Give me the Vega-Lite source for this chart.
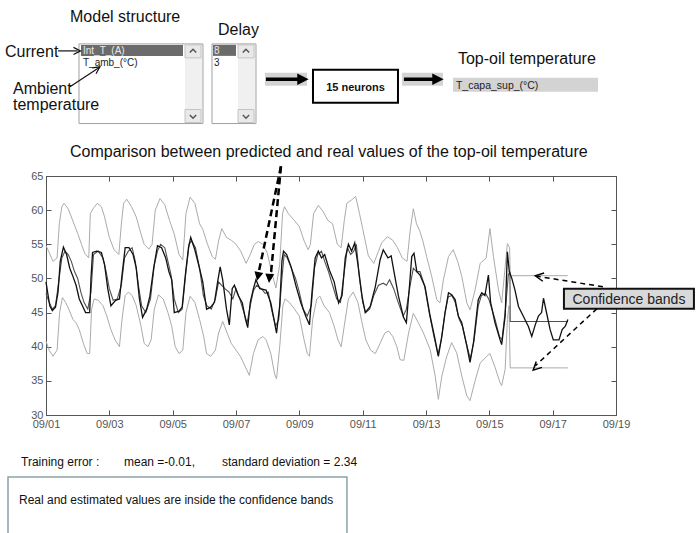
{
"$schema":"https://vega.github.io/schema/vega-lite/v6.json",
"width":570,"height":239,"autosize":"none",
"padding":{"left":46,"top":176,"right":80,"bottom":118},
"background":"white",
"config":{"view":{"stroke":"#555","strokeWidth":1},"text":{"font":"Liberation Sans"}},
"datasets":{
"real":[{"d":1.0,"v":49.5},{"d":1.05,"v":48.0},{"d":1.12,"v":46.0},{"d":1.2,"v":45.3},{"d":1.3,"v":45.8},{"d":1.38,"v":48.0},{"d":1.45,"v":52.5},{"d":1.55,"v":54.6},{"d":1.65,"v":53.5},{"d":1.75,"v":51.5},{"d":1.85,"v":50.3},{"d":1.95,"v":49.0},{"d":2.05,"v":47.0},{"d":2.15,"v":46.0},{"d":2.25,"v":45.0},{"d":2.38,"v":45.0},{"d":2.42,"v":50.0},{"d":2.47,"v":53.8},{"d":2.6,"v":54.0},{"d":2.75,"v":53.8},{"d":2.85,"v":52.0},{"d":2.95,"v":48.5},{"d":3.05,"v":46.0},{"d":3.2,"v":46.8},{"d":3.32,"v":47.0},{"d":3.4,"v":50.5},{"d":3.5,"v":54.5},{"d":3.62,"v":54.5},{"d":3.75,"v":53.5},{"d":3.85,"v":51.5},{"d":3.95,"v":47.0},{"d":4.05,"v":44.3},{"d":4.18,"v":45.5},{"d":4.28,"v":47.4},{"d":4.4,"v":51.5},{"d":4.52,"v":54.8},{"d":4.65,"v":54.5},{"d":4.78,"v":53.0},{"d":4.88,"v":51.0},{"d":4.97,"v":49.8},{"d":5.05,"v":45.0},{"d":5.2,"v":45.2},{"d":5.3,"v":45.8},{"d":5.4,"v":50.5},{"d":5.5,"v":54.5},{"d":5.57,"v":56.0},{"d":5.7,"v":54.2},{"d":5.82,"v":52.0},{"d":5.95,"v":49.5},{"d":6.07,"v":45.5},{"d":6.2,"v":45.8},{"d":6.32,"v":46.5},{"d":6.42,"v":49.5},{"d":6.5,"v":51.7},{"d":6.58,"v":49.8},{"d":6.7,"v":45.5},{"d":6.79,"v":43.2},{"d":6.88,"v":48.5},{"d":6.95,"v":49.0},{"d":7.07,"v":47.5},{"d":7.2,"v":46.4},{"d":7.3,"v":44.0},{"d":7.37,"v":42.8},{"d":7.45,"v":46.5},{"d":7.55,"v":48.5},{"d":7.63,"v":49.8},{"d":7.75,"v":48.5},{"d":7.95,"v":48.3},{"d":8.1,"v":46.4},{"d":8.2,"v":44.0},{"d":8.28,"v":42.0},{"d":8.38,"v":46.0},{"d":8.45,"v":52.5},{"d":8.5,"v":54.0},{"d":8.6,"v":53.5},{"d":8.74,"v":51.7},{"d":8.9,"v":48.8},{"d":9.05,"v":46.4},{"d":9.2,"v":44.5},{"d":9.32,"v":43.2},{"d":9.4,"v":48.0},{"d":9.5,"v":53.0},{"d":9.6,"v":54.0},{"d":9.7,"v":53.0},{"d":9.8,"v":53.5},{"d":9.95,"v":51.2},{"d":10.1,"v":49.5},{"d":10.24,"v":46.4},{"d":10.35,"v":47.5},{"d":10.45,"v":53.0},{"d":10.55,"v":55.0},{"d":10.65,"v":54.0},{"d":10.75,"v":55.2},{"d":10.85,"v":52.0},{"d":10.98,"v":47.4},{"d":11.08,"v":45.0},{"d":11.24,"v":45.9},{"d":11.4,"v":48.8},{"d":11.55,"v":52.7},{"d":11.65,"v":54.2},{"d":11.8,"v":53.0},{"d":11.9,"v":53.3},{"d":11.98,"v":51.2},{"d":12.13,"v":47.4},{"d":12.29,"v":44.3},{"d":12.38,"v":43.5},{"d":12.48,"v":49.0},{"d":12.55,"v":53.2},{"d":12.62,"v":53.7},{"d":12.71,"v":51.0},{"d":12.81,"v":50.5},{"d":12.97,"v":48.8},{"d":13.13,"v":44.5},{"d":13.29,"v":41.0},{"d":13.39,"v":38.6},{"d":13.5,"v":41.5},{"d":13.6,"v":44.9},{"d":13.71,"v":47.9},{"d":13.81,"v":47.6},{"d":13.92,"v":46.9},{"d":14.02,"v":44.5},{"d":14.13,"v":43.5},{"d":14.29,"v":40.1},{"d":14.39,"v":37.7},{"d":14.5,"v":40.6},{"d":14.65,"v":46.9},{"d":14.76,"v":47.9},{"d":14.86,"v":47.5},{"d":14.97,"v":50.5},{"d":15.04,"v":46.5},{"d":15.18,"v":43.5},{"d":15.34,"v":41.0},{"d":15.39,"v":40.3},{"d":15.5,"v":44.5},{"d":15.57,"v":53.9},{"d":15.63,"v":51.0},{"d":15.71,"v":50.0},{"d":15.81,"v":48.3},{"d":15.92,"v":45.9},{"d":16.07,"v":44.5},{"d":16.23,"v":43.0},{"d":16.34,"v":41.5},{"d":16.45,"v":43.2},{"d":16.55,"v":44.5},{"d":16.65,"v":45.0},{"d":16.71,"v":47.1},{"d":16.81,"v":44.9},{"d":16.92,"v":42.5},{"d":17.02,"v":41.0},{"d":17.2,"v":41.0},{"d":17.3,"v":42.5},{"d":17.4,"v":43.0},{"d":17.48,"v":44.0}],
"pred":[{"d":1.0,"v":47.8},{"d":1.1,"v":46.5},{"d":1.2,"v":45.5},{"d":1.3,"v":46.0},{"d":1.4,"v":49.5},{"d":1.5,"v":53.0},{"d":1.6,"v":54.0},{"d":1.7,"v":53.5},{"d":1.8,"v":52.5},{"d":1.9,"v":51.0},{"d":2.0,"v":50.0},{"d":2.1,"v":48.0},{"d":2.2,"v":46.5},{"d":2.32,"v":45.5},{"d":2.42,"v":48.0},{"d":2.5,"v":53.5},{"d":2.65,"v":54.0},{"d":2.8,"v":53.0},{"d":2.9,"v":51.0},{"d":3.0,"v":48.5},{"d":3.12,"v":46.8},{"d":3.25,"v":47.0},{"d":3.38,"v":49.0},{"d":3.48,"v":53.0},{"d":3.6,"v":54.0},{"d":3.72,"v":54.5},{"d":3.82,"v":52.5},{"d":3.92,"v":49.0},{"d":4.02,"v":46.0},{"d":4.15,"v":45.0},{"d":4.3,"v":47.0},{"d":4.42,"v":52.0},{"d":4.52,"v":54.0},{"d":4.62,"v":55.0},{"d":4.75,"v":54.5},{"d":4.85,"v":52.5},{"d":4.95,"v":50.5},{"d":5.05,"v":47.0},{"d":5.18,"v":45.0},{"d":5.3,"v":45.5},{"d":5.42,"v":51.0},{"d":5.52,"v":55.0},{"d":5.6,"v":55.5},{"d":5.72,"v":54.5},{"d":5.85,"v":51.5},{"d":5.97,"v":47.5},{"d":6.08,"v":46.0},{"d":6.22,"v":45.5},{"d":6.35,"v":47.0},{"d":6.45,"v":49.5},{"d":6.55,"v":49.0},{"d":6.65,"v":48.5},{"d":6.78,"v":48.0},{"d":6.9,"v":47.0},{"d":7.0,"v":48.5},{"d":7.12,"v":47.0},{"d":7.25,"v":45.0},{"d":7.35,"v":43.5},{"d":7.45,"v":46.0},{"d":7.55,"v":48.2},{"d":7.65,"v":49.0},{"d":7.8,"v":48.5},{"d":7.92,"v":47.8},{"d":8.02,"v":48.0},{"d":8.12,"v":45.5},{"d":8.25,"v":43.0},{"d":8.35,"v":44.0},{"d":8.45,"v":50.0},{"d":8.52,"v":53.5},{"d":8.62,"v":53.0},{"d":8.75,"v":51.5},{"d":8.88,"v":50.0},{"d":9.0,"v":48.0},{"d":9.12,"v":45.5},{"d":9.25,"v":44.5},{"d":9.38,"v":46.0},{"d":9.48,"v":51.5},{"d":9.58,"v":53.5},{"d":9.7,"v":54.0},{"d":9.8,"v":52.5},{"d":9.92,"v":51.0},{"d":10.05,"v":49.0},{"d":10.18,"v":47.0},{"d":10.3,"v":46.5},{"d":10.42,"v":51.0},{"d":10.52,"v":54.5},{"d":10.62,"v":53.5},{"d":10.72,"v":54.0},{"d":10.8,"v":55.0},{"d":10.9,"v":50.0},{"d":11.0,"v":46.5},{"d":11.1,"v":45.0},{"d":11.22,"v":45.5},{"d":11.35,"v":47.5},{"d":11.5,"v":49.0},{"d":11.65,"v":49.3},{"d":11.75,"v":49.0},{"d":11.85,"v":49.8},{"d":11.98,"v":48.5},{"d":12.12,"v":46.5},{"d":12.28,"v":44.5},{"d":12.38,"v":45.5},{"d":12.5,"v":49.0},{"d":12.6,"v":51.5},{"d":12.7,"v":51.0},{"d":12.81,"v":51.0},{"d":12.95,"v":49.0},{"d":13.1,"v":45.0},{"d":13.25,"v":41.5},{"d":13.38,"v":38.8},{"d":13.48,"v":41.0},{"d":13.6,"v":45.0},{"d":13.7,"v":47.3},{"d":13.82,"v":47.5},{"d":13.92,"v":46.5},{"d":14.05,"v":44.0},{"d":14.15,"v":43.0},{"d":14.3,"v":40.0},{"d":14.4,"v":38.2},{"d":14.52,"v":41.0},{"d":14.65,"v":46.0},{"d":14.75,"v":47.5},{"d":14.88,"v":47.8},{"d":14.98,"v":47.0},{"d":15.05,"v":46.0},{"d":15.18,"v":44.0},{"d":15.32,"v":41.5},{"d":15.4,"v":41.0},{"d":15.52,"v":46.0},{"d":15.6,"v":50.5},{"d":15.65,"v":51.0},{"d":15.66,"v":43.7},{"d":17.48,"v":43.7}],
"upper":[{"d":1.0,"v":54.8},{"d":1.1,"v":53.8},{"d":1.22,"v":52.5},{"d":1.35,"v":53.0},{"d":1.42,"v":58.0},{"d":1.5,"v":60.5},{"d":1.57,"v":61.0},{"d":1.7,"v":60.2},{"d":1.8,"v":59.0},{"d":1.9,"v":57.8},{"d":2.0,"v":56.6},{"d":2.12,"v":55.0},{"d":2.22,"v":53.7},{"d":2.35,"v":53.0},{"d":2.4,"v":59.5},{"d":2.5,"v":60.3},{"d":2.62,"v":61.0},{"d":2.75,"v":60.5},{"d":2.85,"v":59.0},{"d":3.0,"v":56.0},{"d":3.15,"v":54.2},{"d":3.3,"v":53.5},{"d":3.38,"v":58.0},{"d":3.45,"v":61.0},{"d":3.55,"v":61.6},{"d":3.7,"v":60.5},{"d":3.85,"v":59.0},{"d":4.0,"v":56.5},{"d":4.1,"v":55.0},{"d":4.25,"v":54.3},{"d":4.35,"v":55.0},{"d":4.45,"v":60.0},{"d":4.6,"v":61.7},{"d":4.75,"v":60.8},{"d":4.9,"v":58.5},{"d":5.05,"v":56.5},{"d":5.2,"v":53.5},{"d":5.32,"v":52.7},{"d":5.42,"v":59.5},{"d":5.55,"v":61.9},{"d":5.7,"v":61.0},{"d":5.85,"v":58.0},{"d":5.95,"v":57.2},{"d":6.1,"v":55.0},{"d":6.25,"v":53.2},{"d":6.35,"v":52.8},{"d":6.45,"v":55.5},{"d":6.55,"v":57.3},{"d":6.7,"v":56.0},{"d":6.85,"v":55.6},{"d":7.0,"v":55.0},{"d":7.15,"v":54.0},{"d":7.32,"v":52.2},{"d":7.45,"v":53.5},{"d":7.58,"v":55.0},{"d":7.7,"v":55.4},{"d":7.85,"v":55.0},{"d":7.99,"v":53.7},{"d":8.12,"v":51.0},{"d":8.26,"v":48.6},{"d":8.38,"v":52.0},{"d":8.47,"v":59.5},{"d":8.53,"v":60.5},{"d":8.65,"v":59.5},{"d":8.84,"v":58.5},{"d":9.0,"v":57.6},{"d":9.15,"v":55.5},{"d":9.28,"v":54.2},{"d":9.35,"v":55.0},{"d":9.45,"v":59.5},{"d":9.6,"v":60.7},{"d":9.75,"v":59.8},{"d":9.9,"v":58.5},{"d":10.05,"v":58.0},{"d":10.2,"v":55.0},{"d":10.32,"v":54.5},{"d":10.42,"v":58.5},{"d":10.5,"v":61.0},{"d":10.65,"v":61.5},{"d":10.78,"v":62.0},{"d":10.9,"v":59.5},{"d":11.0,"v":57.3},{"d":11.18,"v":53.3},{"d":11.35,"v":52.2},{"d":11.5,"v":54.0},{"d":11.6,"v":55.2},{"d":11.78,"v":56.1},{"d":11.95,"v":55.6},{"d":12.1,"v":54.5},{"d":12.25,"v":53.0},{"d":12.4,"v":52.5},{"d":12.5,"v":57.0},{"d":12.6,"v":60.2},{"d":12.7,"v":58.0},{"d":12.8,"v":57.0},{"d":12.9,"v":55.5},{"d":13.02,"v":53.2},{"d":13.18,"v":50.3},{"d":13.34,"v":46.9},{"d":13.44,"v":46.4},{"d":13.55,"v":49.8},{"d":13.71,"v":53.2},{"d":13.86,"v":54.2},{"d":14.0,"v":52.5},{"d":14.13,"v":50.3},{"d":14.29,"v":46.4},{"d":14.39,"v":45.4},{"d":14.55,"v":48.3},{"d":14.71,"v":52.2},{"d":14.9,"v":53.0},{"d":15.02,"v":57.3},{"d":15.13,"v":53.2},{"d":15.29,"v":48.3},{"d":15.39,"v":46.4},{"d":15.5,"v":51.7},{"d":15.57,"v":55.1},{"d":15.64,"v":54.5},{"d":15.66,"v":50.4},{"d":17.48,"v":50.4}],
"lower":[{"d":1.0,"v":40.8},{"d":1.1,"v":39.5},{"d":1.22,"v":38.6},{"d":1.35,"v":39.5},{"d":1.43,"v":45.0},{"d":1.52,"v":47.2},{"d":1.62,"v":46.5},{"d":1.72,"v":45.5},{"d":1.85,"v":44.0},{"d":1.95,"v":43.5},{"d":2.05,"v":42.5},{"d":2.18,"v":40.5},{"d":2.3,"v":39.0},{"d":2.38,"v":39.0},{"d":2.44,"v":45.5},{"d":2.52,"v":47.0},{"d":2.65,"v":46.8},{"d":2.8,"v":46.0},{"d":2.92,"v":44.5},{"d":3.05,"v":42.5},{"d":3.18,"v":41.0},{"d":3.32,"v":40.0},{"d":3.4,"v":44.0},{"d":3.5,"v":47.5},{"d":3.6,"v":48.0},{"d":3.72,"v":47.5},{"d":3.85,"v":46.0},{"d":4.0,"v":43.0},{"d":4.1,"v":40.5},{"d":4.22,"v":40.0},{"d":4.32,"v":41.0},{"d":4.42,"v":45.5},{"d":4.55,"v":47.6},{"d":4.7,"v":47.0},{"d":4.85,"v":45.0},{"d":4.97,"v":43.0},{"d":5.08,"v":40.0},{"d":5.2,"v":39.0},{"d":5.32,"v":39.5},{"d":5.42,"v":45.0},{"d":5.55,"v":47.4},{"d":5.7,"v":46.5},{"d":5.85,"v":44.0},{"d":5.98,"v":41.5},{"d":6.07,"v":39.0},{"d":6.2,"v":38.6},{"d":6.35,"v":39.5},{"d":6.45,"v":42.0},{"d":6.58,"v":43.7},{"d":6.72,"v":42.0},{"d":6.85,"v":40.5},{"d":7.0,"v":39.5},{"d":7.15,"v":38.5},{"d":7.3,"v":37.0},{"d":7.42,"v":35.8},{"d":7.55,"v":39.0},{"d":7.7,"v":41.0},{"d":7.85,"v":41.5},{"d":7.95,"v":41.0},{"d":8.1,"v":39.0},{"d":8.22,"v":36.0},{"d":8.28,"v":35.3},{"d":8.38,"v":40.0},{"d":8.48,"v":46.0},{"d":8.55,"v":47.0},{"d":8.7,"v":46.4},{"d":8.85,"v":45.5},{"d":9.0,"v":44.5},{"d":9.15,"v":41.0},{"d":9.25,"v":39.0},{"d":9.32,"v":38.6},{"d":9.42,"v":44.0},{"d":9.55,"v":47.0},{"d":9.65,"v":47.4},{"d":9.78,"v":46.0},{"d":9.95,"v":45.0},{"d":10.1,"v":43.0},{"d":10.22,"v":41.0},{"d":10.32,"v":40.0},{"d":10.45,"v":44.0},{"d":10.55,"v":47.0},{"d":10.7,"v":48.0},{"d":10.85,"v":46.5},{"d":10.98,"v":43.5},{"d":11.1,"v":41.0},{"d":11.25,"v":39.5},{"d":11.4,"v":39.0},{"d":11.55,"v":40.5},{"d":11.7,"v":42.0},{"d":11.82,"v":42.3},{"d":11.95,"v":41.5},{"d":12.08,"v":40.0},{"d":12.18,"v":38.1},{"d":12.3,"v":38.0},{"d":12.45,"v":42.0},{"d":12.6,"v":44.9},{"d":12.76,"v":43.5},{"d":12.92,"v":42.0},{"d":13.13,"v":39.6},{"d":13.29,"v":35.7},{"d":13.39,"v":32.3},{"d":13.5,"v":35.7},{"d":13.65,"v":38.5},{"d":13.81,"v":40.6},{"d":13.97,"v":39.1},{"d":14.13,"v":35.7},{"d":14.29,"v":32.8},{"d":14.39,"v":32.1},{"d":14.55,"v":35.0},{"d":14.71,"v":37.6},{"d":14.92,"v":38.6},{"d":15.02,"v":39.0},{"d":15.18,"v":37.0},{"d":15.34,"v":34.7},{"d":15.39,"v":34.3},{"d":15.5,"v":36.7},{"d":15.57,"v":44.0},{"d":15.62,"v":46.0},{"d":15.66,"v":36.9},{"d":17.48,"v":36.9}]
},
"resolve":{"axis":{"x":"independent","y":"independent"}},
"layer":[
{"data":{"name":"upper"},"mark":{"type":"line","color":"#ababab","strokeWidth":1},
 "encoding":{
  "x":{"field":"d","type":"quantitative","scale":{"domain":[1,19],"nice":false,"zero":false},
   "axis":{"title":null,"grid":false,"values":[1,3,5,7,9,11,13,15,17,19],"labelExpr":"'09/' + (datum.value < 10 ? '0' : '') + datum.value","tickSize":-5,"labelPadding":8,"labelFlush":false,"labelOverlap":false,"domainColor":"#555","tickColor":"#555","labelColor":"#555","labelFont":"Liberation Sans","labelFontSize":11}},
  "y":{"field":"v","type":"quantitative","scale":{"domain":[30,65],"nice":false,"zero":false},
   "axis":{"title":null,"grid":false,"values":[30,35,40,45,50,55,60,65],"tickSize":-5,"labelPadding":8,"labelFlush":false,"labelOverlap":false,"domainColor":"#555","tickColor":"#555","labelColor":"#555","labelFont":"Liberation Sans","labelFontSize":11}}}},
{"data":{"name":"lower"},"mark":{"type":"line","color":"#ababab","strokeWidth":1},
 "encoding":{
  "x":{"field":"d","type":"quantitative","scale":{"domain":[1,19],"nice":false,"zero":false},
   "axis":{"orient":"top","title":null,"grid":false,"labels":false,"values":[1,3,5,7,9,11,13,15,17,19],"tickSize":-5,"domainColor":"#555","tickColor":"#555"}},
  "y":{"field":"v","type":"quantitative","scale":{"domain":[30,65],"nice":false,"zero":false},
   "axis":{"orient":"right","title":null,"grid":false,"labels":false,"values":[30,35,40,45,50,55,60,65],"tickSize":-5,"domainColor":"#555","tickColor":"#555"}}}},
{"data":{"name":"pred"},"mark":{"type":"line","color":"#505050","strokeWidth":1.1},
 "encoding":{"x":{"field":"d","type":"quantitative","axis":null},"y":{"field":"v","type":"quantitative","axis":null}}},
{"data":{"name":"real"},"mark":{"type":"line","color":"#111111","strokeWidth":1.3},
 "encoding":{"x":{"field":"d","type":"quantitative","axis":null},"y":{"field":"v","type":"quantitative","axis":null}}},
{"data":{"values":[{"d":2.042,"d2":5.957,"v":84.34,"v2":72.68},{"d":6.242,"d2":7.631,"v":84.34,"v2":72.68}]},
 "mark":{"type":"rect","fill":"white","stroke":"#a0a0a0","strokeWidth":1},
 "encoding":{"x":{"field":"d","type":"quantitative","axis":null},"x2":{"field":"d2"},"y":{"field":"v","type":"quantitative","axis":null},"y2":{"field":"v2"}}},
{"data":{"values":[{"d":5.389,"d2":5.926,"v":84.2,"v2":72.83},{"d":7.063,"d2":7.6,"v":84.2,"v2":72.83}]},
 "mark":{"type":"rect","fill":"#f0f0f0"},
 "encoding":{"x":{"field":"d","type":"quantitative","axis":null},"x2":{"field":"d2"},"y":{"field":"v","type":"quantitative","axis":null},"y2":{"field":"v2"}}},
{"data":{"values":[{"d":5.389,"d2":5.894,"v":84.2,"v2":82.3},{"d":5.389,"d2":5.894,"v":74.74,"v2":72.83},{"d":7.063,"d2":7.568,"v":84.2,"v2":82.3},{"d":7.063,"d2":7.568,"v":74.74,"v2":72.83}]},
 "mark":{"type":"rect","fill":"#e9e9e9","stroke":"#c4c4c4","strokeWidth":1},
 "encoding":{"x":{"field":"d","type":"quantitative","axis":null},"x2":{"field":"d2"},"y":{"field":"v","type":"quantitative","axis":null},"y2":{"field":"v2"}}},
{"data":{"values":[{"d":2.105,"d2":5.326,"v":84.2,"v2":82.59},{"d":6.273,"d2":7.0,"v":84.2,"v2":82.59}]},
 "mark":{"type":"rect","fill":"#6b6b6b"},
 "encoding":{"x":{"field":"d","type":"quantitative","axis":null},"x2":{"field":"d2"},"y":{"field":"v","type":"quantitative","axis":null},"y2":{"field":"v2"}}},
{"data":{"values":[{"d":7.915,"d2":9.242,"v":80.12,"v2":78.22},{"d":12.241,"d2":13.536,"v":80.12,"v2":78.22},{"d":13.852,"d2":18.431,"v":79.39,"v2":77.35}]},
 "mark":{"type":"rect","fill":"#d3d3d3"},
 "encoding":{"x":{"field":"d","type":"quantitative","axis":null},"x2":{"field":"d2"},"y":{"field":"v","type":"quantitative","axis":null},"y2":{"field":"v2"}}},
{"data":{"values":[{"d":9.431,"d2":12.115,"v":80.55,"v2":75.74}]},
 "mark":{"type":"rect","fill":"white","stroke":"#000","strokeWidth":2},
 "encoding":{"x":{"field":"d","type":"quantitative","axis":null},"x2":{"field":"d2"},"y":{"field":"v","type":"quantitative","axis":null},"y2":{"field":"v2"}}},
{"data":{"values":[{"d":17.356,"d2":21.461,"v":48.48,"v2":45.57}]},
 "mark":{"type":"rect","fill":"#d9d9d9","stroke":"#111","strokeWidth":2},
 "encoding":{"x":{"field":"d","type":"quantitative","axis":null},"x2":{"field":"d2"},"y":{"field":"v","type":"quantitative","axis":null},"y2":{"field":"v2"}}},
{"data":{"values":[{"d":-0.2,"d2":10.504,"v":20.93,"v2":11.9}]},
 "mark":{"type":"rect","fill":"transparent","stroke":"#8aa3a8","strokeWidth":1.5},
 "encoding":{"x":{"field":"d","type":"quantitative","axis":null},"x2":{"field":"d2"},"y":{"field":"v","type":"quantitative","axis":null},"y2":{"field":"v2"}}},
{"data":{"values":[{"d":1.381,"v":83.32,"d2":2.0,"v2":83.32},{"d":1.758,"v":78.08,"d2":2.68,"v2":80.9}]},
 "mark":{"type":"rule","color":"#111","strokeWidth":1.2},
 "encoding":{"x":{"field":"d","type":"quantitative","axis":null},"x2":{"field":"d2"},"y":{"field":"v","type":"quantitative","axis":null},"y2":{"field":"v2"}}},
{"data":{"values":[{"d":7.946,"v":79.17,"d2":9.05,"v2":79.17},{"d":12.304,"v":79.17,"d2":13.33,"v2":79.17}]},
 "mark":{"type":"rule","color":"#000","strokeWidth":3.5},
 "encoding":{"x":{"field":"d","type":"quantitative","axis":null},"x2":{"field":"d2"},"y":{"field":"v","type":"quantitative","axis":null},"y2":{"field":"v2"}}},
{"data":{"values":[{"d":8.42,"v":66.41,"d2":7.69,"v2":50.3},{"d":8.42,"v":66.41,"d2":8.09,"v2":50.0}]},
 "mark":{"type":"rule","color":"#000","strokeWidth":2.5,"strokeDash":[7,4]},
 "encoding":{"x":{"field":"d","type":"quantitative","axis":null},"x2":{"field":"d2"},"y":{"field":"v","type":"quantitative","axis":null},"y2":{"field":"v2"}}},
{"data":{"values":[{"d":18.587,"v":48.78,"d2":16.5,"v2":50.33},{"d":18.398,"v":45.57,"d2":16.45,"v2":37.2}]},
 "mark":{"type":"rule","color":"#000","strokeWidth":1.5,"strokeDash":[5,4]},
 "encoding":{"x":{"field":"d","type":"quantitative","axis":null},"x2":{"field":"d2"},"y":{"field":"v","type":"quantitative","axis":null},"y2":{"field":"v2"}}},
{"data":{"values":[{"d":1.979,"v":83.32}]},
 "mark":{"type":"point","shape":"M-1,-1L1,0L-1,1","filled":false,"stroke":"#111","strokeWidth":1.2,"size":50,"angle":0,"opacity":1},
 "encoding":{"x":{"field":"d","type":"quantitative","axis":null},"y":{"field":"v","type":"quantitative","axis":null}}},
{"data":{"values":[{"d":2.61,"v":80.7}]},
 "mark":{"type":"point","shape":"M-1,-1L1,0L-1,1","filled":false,"stroke":"#111","strokeWidth":1.2,"size":50,"angle":326,"opacity":1},
 "encoding":{"x":{"field":"d","type":"quantitative","axis":null},"y":{"field":"v","type":"quantitative","axis":null}}},
{"data":{"values":[{"d":9.115,"v":79.17},{"d":13.378,"v":79.17}]},
 "mark":{"type":"point","shape":"M-1,-1L1,0L-1,1Z","filled":true,"fill":"#000","size":130,"angle":0,"opacity":1},
 "encoding":{"x":{"field":"d","type":"quantitative","axis":null},"y":{"field":"v","type":"quantitative","axis":null}}},
{"data":{"values":[{"d":7.694,"v":50.29}]},
 "mark":{"type":"point","shape":"M-1,-1L1,0L-1,1Z","filled":true,"fill":"#000","size":80,"angle":102,"opacity":1},
 "encoding":{"x":{"field":"d","type":"quantitative","axis":null},"y":{"field":"v","type":"quantitative","axis":null}}},
{"data":{"values":[{"d":8.054,"v":50.0}]},
 "mark":{"type":"point","shape":"M-1,-1L1,0L-1,1Z","filled":true,"fill":"#000","size":80,"angle":95,"opacity":1},
 "encoding":{"x":{"field":"d","type":"quantitative","axis":null},"y":{"field":"v","type":"quantitative","axis":null}}},
{"data":{"values":[{"d":16.579,"v":50.28}]},
 "mark":{"type":"point","shape":"M-1,-1L1,0L-1,1","filled":false,"stroke":"#000","strokeWidth":1.4,"size":70,"angle":189,"opacity":1},
 "encoding":{"x":{"field":"d","type":"quantitative","axis":null},"y":{"field":"v","type":"quantitative","axis":null}}},
{"data":{"values":[{"d":16.478,"v":36.98}]},
 "mark":{"type":"point","shape":"M-1,-1L1,0L-1,1","filled":false,"stroke":"#000","strokeWidth":1.4,"size":70,"angle":136,"opacity":1},
 "encoding":{"x":{"field":"d","type":"quantitative","axis":null},"y":{"field":"v","type":"quantitative","axis":null}}},
{"data":{"values":[{"d":5.642,"v":83.32},{"d":7.315,"v":83.32}]},
 "mark":{"type":"point","shape":"M-1,0.5L0,-0.5L1,0.5","filled":false,"stroke":"#555","strokeWidth":1.5,"size":40,"opacity":1},
 "encoding":{"x":{"field":"d","type":"quantitative","axis":null},"y":{"field":"v","type":"quantitative","axis":null}}},
{"data":{"values":[{"d":5.642,"v":73.7},{"d":7.315,"v":73.7}]},
 "mark":{"type":"point","shape":"M-1,-0.5L0,0.5L1,-0.5","filled":false,"stroke":"#555","strokeWidth":1.5,"size":40,"opacity":1},
 "encoding":{"x":{"field":"d","type":"quantitative","axis":null},"y":{"field":"v","type":"quantitative","axis":null}}},
{"data":{"values":[{"t":"Model structure","d":1.758,"v":87.55},{"t":"Delay","d":6.431,"v":85.66},{"t":"Current","d":-0.295,"v":82.45},{"t":"Ambient","d":-0.042,"v":77.06},{"t":"temperature","d":-0.042,"v":74.72},{"t":"Top-oil temperature","d":14.009,"v":81.43},{"t":"Comparison between predicted and real values of the top-oil temperature","d":1.758,"v":67.73}]},
 "mark":{"type":"text","align":"left","baseline":"alphabetic","fontSize":16,"color":"#111"},
 "encoding":{"x":{"field":"d","type":"quantitative","axis":null},"y":{"field":"v","type":"quantitative","axis":null},"text":{"field":"t"}}},
{"data":{"values":[{"t":"Int_T_(A)","d":2.168,"v":82.89},{"t":"8","d":6.305,"v":82.89}]},
 "mark":{"type":"text","align":"left","baseline":"alphabetic","fontSize":10,"color":"#e8e8e8"},
 "encoding":{"x":{"field":"d","type":"quantitative","axis":null},"y":{"field":"v","type":"quantitative","axis":null},"text":{"field":"t"}}},
{"data":{"values":[{"t":"T_amb_(°C)","d":2.168,"v":81.14},{"t":"3","d":6.305,"v":81.14}]},
 "mark":{"type":"text","align":"left","baseline":"alphabetic","fontSize":10,"color":"#222"},
 "encoding":{"x":{"field":"d","type":"quantitative","axis":null},"y":{"field":"v","type":"quantitative","axis":null},"text":{"field":"t"}}},
{"data":{"values":[{"t":"15 neurons","d":10.773,"v":77.49}]},
 "mark":{"type":"text","align":"center","baseline":"alphabetic","fontSize":11,"fontWeight":"bold","color":"#111"},
 "encoding":{"x":{"field":"d","type":"quantitative","axis":null},"y":{"field":"v","type":"quantitative","axis":null},"text":{"field":"t"}}},
{"data":{"values":[{"t":"T_capa_sup_(°C)","d":13.946,"v":77.78}]},
 "mark":{"type":"text","align":"left","baseline":"alphabetic","fontSize":10.5,"color":"#222"},
 "encoding":{"x":{"field":"d","type":"quantitative","axis":null},"y":{"field":"v","type":"quantitative","axis":null},"text":{"field":"t"}}},
{"data":{"values":[{"t":"Confidence bands","d":19.409,"v":46.3}]},
 "mark":{"type":"text","align":"center","baseline":"alphabetic","fontSize":14,"color":"#222"},
 "encoding":{"x":{"field":"d","type":"quantitative","axis":null},"y":{"field":"v","type":"quantitative","axis":null},"text":{"field":"t"}}},
{"data":{"values":[{"t":"Training error :","d":0.211,"v":22.54},{"t":"mean =-0.01,","d":3.463,"v":22.54},{"t":"standard deviation = 2.34","d":6.557,"v":22.54},{"t":"Real and estimated values are inside the confidence bands","d":0.147,"v":17.0}]},
 "mark":{"type":"text","align":"left","baseline":"alphabetic","fontSize":12,"color":"#111"},
 "encoding":{"x":{"field":"d","type":"quantitative","axis":null},"y":{"field":"v","type":"quantitative","axis":null},"text":{"field":"t"}}}
]
}
